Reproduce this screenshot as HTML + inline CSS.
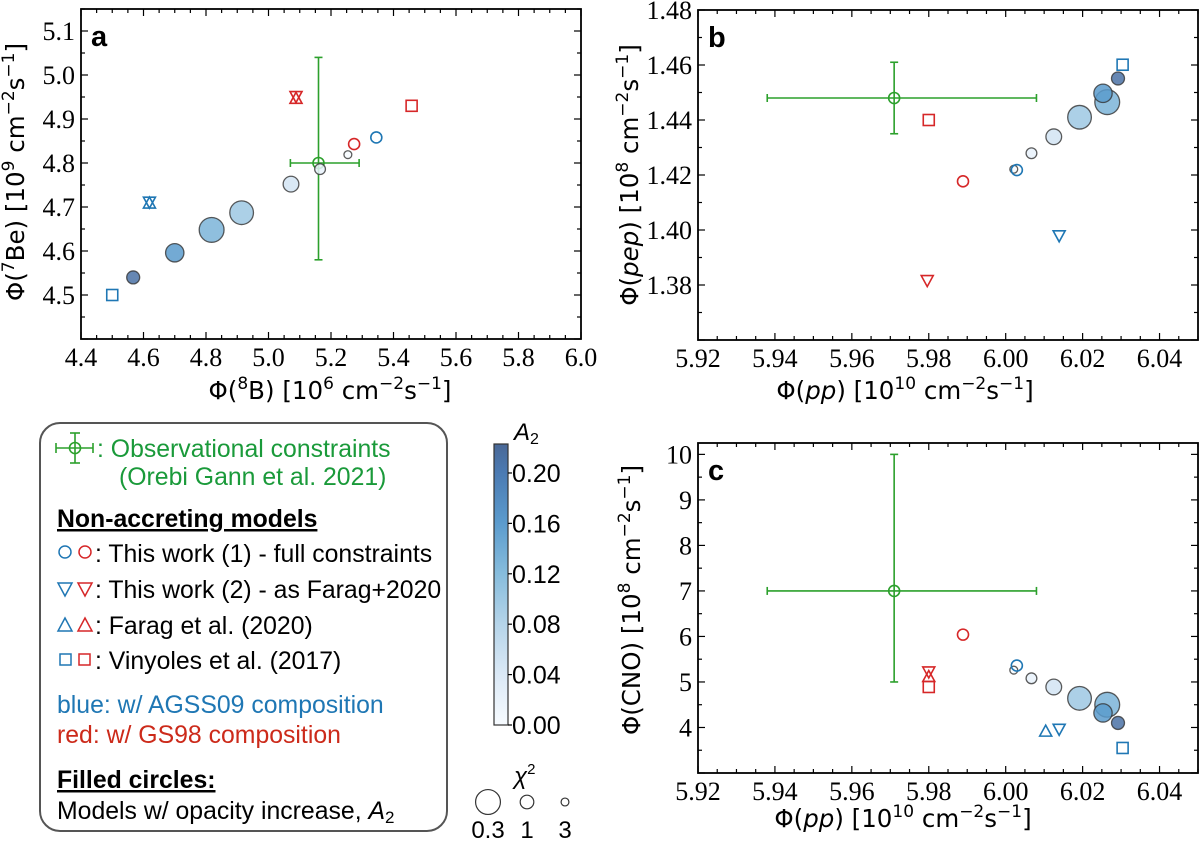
<!DOCTYPE html>
<html><head><meta charset="utf-8">
<style>
html,body{margin:0;padding:0;background:#fff;}
svg{display:block;}
.title{font-family:"DejaVu Sans","Liberation Sans",sans-serif;font-size:24.5px;fill:#000;}
.leg{font-family:"Liberation Sans",sans-serif;font-size:24.8px;}
</style></head>
<body>
<svg id="fig" width="1200" height="844" viewBox="0 0 1200 844" xmlns="http://www.w3.org/2000/svg">
  <g>
    <rect x="40" y="423" width="407" height="408" rx="20" ry="20" fill="#fff" stroke="#555" stroke-width="2"/>
    <g stroke="#2ca02c" stroke-width="1.6" fill="none">
      <line x1="56" y1="448" x2="93" y2="448"/><line x1="56" y1="443" x2="56" y2="453"/><line x1="93" y1="443" x2="93" y2="453"/>
      <line x1="75" y1="433" x2="75" y2="463"/><line x1="70" y1="433" x2="80" y2="433"/><line x1="70" y1="463" x2="80" y2="463"/>
      <circle cx="75" cy="448" r="5.5"/>
    </g>
    <text class="leg" x="97" y="457" fill="#1a9a3a">: Observational constraints</text>
    <text class="leg" x="119" y="485" fill="#1a9a3a">(Orebi Gann et al. 2021)</text>
    <text class="leg" x="57" y="527" fill="#000" font-weight="bold" text-decoration="underline">Non-accreting models</text>
    <g fill="none" stroke-width="1.5">
      <circle cx="65" cy="552" r="6" stroke="#1f77b4"/><circle cx="85" cy="552" r="6" stroke="#d62728"/>
      <path d="M58,583 L72,583 L65,596 Z" stroke="#1f77b4"/><path d="M78,583 L92,583 L85,596 Z" stroke="#d62728"/>
      <path d="M58,631 L72,631 L65,618 Z" stroke="#1f77b4"/><path d="M78,631 L92,631 L85,618 Z" stroke="#d62728"/>
      <rect x="60" y="654" width="11" height="11" stroke="#1f77b4"/><rect x="79" y="654" width="11" height="11" stroke="#d62728"/>
    </g>
    <text class="leg" x="95" y="562" fill="#000">: This work (1) - full constraints</text>
    <text class="leg" x="95" y="598" fill="#000">: This work (2) - as Farag+2020</text>
    <text class="leg" x="95" y="634" fill="#000">: Farag et al. (2020)</text>
    <text class="leg" x="95" y="669" fill="#000">: Vinyoles et al. (2017)</text>
    <text class="leg" x="57" y="713" fill="#1f77b4">blue: w/ AGSS09 composition</text>
    <text class="leg" x="57" y="743" fill="#cc2a1a">red: w/ GS98 composition</text>
    <text class="leg" x="57" y="788" fill="#000" font-weight="bold" text-decoration="underline">Filled circles:</text>
    <text class="leg" x="57" y="819" fill="#000">Models w/ opacity increase, <tspan font-style="italic">A</tspan><tspan font-size="17" dy="4">2</tspan></text>
  </g>
  <defs>
    <linearGradient id="cmap" x1="0" y1="1" x2="0" y2="0">
      <stop offset="0" stop-color="#f7fbff"/>
      <stop offset="0.18" stop-color="#dbe9f6"/>
      <stop offset="0.36" stop-color="#b5d4e9"/>
      <stop offset="0.54" stop-color="#86bcdc"/>
      <stop offset="0.72" stop-color="#5b9bcd"/>
      <stop offset="0.9" stop-color="#4b7ab2"/>
      <stop offset="1" stop-color="#4a6896"/>
    </linearGradient>
  </defs>
  <g id="cbar"></g>
  <g id="sizeleg"></g>
  <g id="pa"></g>
  <g id="pb"></g>
  <g id="pc"></g>
</svg>
<script>
const modelA2 = [0.0, 0.02, 0.05, 0.10, 0.13, 0.16, 0.21];
const modelChi2 = [3.0, 1.6, 0.75, 0.33, 0.30, 0.55, 1.1];
const aFilledX = [5.254, 5.165, 5.072, 4.914, 4.818, 4.700, 4.567];
const aFilledY = [4.819, 4.786, 4.752, 4.687, 4.648, 4.596, 4.540];
const bFilledX = [6.0021, 6.0067, 6.0125, 6.0192, 6.0264, 6.0253, 6.0292];
const bFilledY = [1.4221, 1.4279, 1.4339, 1.4410, 1.4465, 1.4497, 1.4551];
const cFilledX = [6.0021, 6.0067, 6.0125, 6.0192, 6.0264, 6.0253, 6.0292];
const cFilledY = [5.26, 5.08, 4.89, 4.64, 4.50, 4.32, 4.10];
const aCircleX = [5.345, 5.274], aCircleY = [4.858, 4.843];
const aTriDownX = [4.619, 5.088], aTriDownY = [4.711, 4.951];
const aTriUpX = [4.619, 5.088], aTriUpY = [4.709, 4.947];
const aSquareX = [4.50, 5.458], aSquareY = [4.50, 4.930];
const bCircleX = [6.0029, 5.9889], bCircleY = [1.4218, 1.4177];
const bTriDownX = [6.0139, 5.9796], bTriDownY = [1.3979, 1.3816];
const bTriUpX = [], bTriUpY = [];
const bSquareX = [6.0304, 5.98], bSquareY = [1.4601, 1.440];
const cCircleX = [6.0029, 5.9889], cCircleY = [5.36, 6.04];
const cTriDownX = [6.0139, 5.98], cTriDownY = [3.96, 5.22];
const cTriUpX = [6.0104, 5.98], cTriUpY = [3.92, 5.12];
const cSquareX = [6.0304, 5.98], cSquareY = [3.55, 4.89];
const aObsX = [5.16, 5.07, 5.29], aObsY = [4.80, 4.58, 5.04];
const bObsX = [5.971, 5.938, 6.008], bObsY = [1.448, 1.435, 1.461];
const cObsX = [5.971, 5.938, 6.008], cObsY = [7.0, 5.0, 10.0];
const aXTicks = ["4.4","4.6","4.8","5.0","5.2","5.4","5.6","5.8","6.0"];
const aYTicks = ["4.5","4.6","4.7","4.8","4.9","5.0","5.1"];
const bXTicks = ["5.92","5.94","5.96","5.98","6.00","6.02","6.04"];
const bYTicks = ["1.38","1.40","1.42","1.44","1.46","1.48"];
const cXTicks = ["5.92","5.94","5.96","5.98","6.00","6.02","6.04"];
const cYTicks = ["4","5","6","7","8","9","10"];
const cbarTicks = ["0.00","0.04","0.08","0.12","0.16","0.20"];
const sizeLegChi2 = [0.3, 1, 3];
const sizeLegLabels = ["0.3","1","3"];

const NS = "http://www.w3.org/2000/svg";
const BLUE = "#1f77b4", RED = "#d62728", GREEN = "#2ca02c";
const SERIF = "Liberation Serif, DejaVu Serif, serif";
function mk(tag, attrs, parent){
  const e = document.createElementNS(NS, tag);
  for (const k in attrs) e.setAttribute(k, attrs[k]);
  parent.appendChild(e); return e;
}
const cmStops = [[0,[247,251,255]],[0.04,[219,233,246]],[0.08,[181,212,233]],[0.12,[134,188,220]],[0.16,[91,155,205]],[0.20,[75,122,178]],[0.223,[74,104,150]]];
function cmap(v){
  for (let i=1;i<cmStops.length;i++){
    if (v<=cmStops[i][0]){
      const a=cmStops[i-1], b=cmStops[i], t=(v-a[0])/(b[0]-a[0]);
      const c=a[1].map((x,j)=>Math.round(x+(b[1][j]-x)*t));
      return `rgb(${c[0]},${c[1]},${c[2]})`;
    }
  }
  return "rgb(74,104,150)";
}
function rad(chi){ return 6.8/Math.sqrt(chi); }

function panel(g, cfg){
  const sx = v => cfg.px0 + (v-cfg.x0)/(cfg.x1-cfg.x0)*(cfg.px1-cfg.px0);
  const sy = v => cfg.py1 - (v-cfg.y0)/(cfg.y1-cfg.y0)*(cfg.py1-cfg.py0);
  const tg = mk("g", {stroke:"#000","stroke-width":1.2}, g);
  
  
  const eps=1e-9;
  for (let v=cfg.x0; v<=cfg.x1+eps; v+=cfg.xminor){
    const x=sx(v); const isMaj = Math.abs(Math.round((v-cfg.xmaj0)/cfg.xmajor)*cfg.xmajor-(v-cfg.xmaj0))<1e-6;
    const L = isMaj?7:4;
    mk("line",{x1:x,y1:cfg.py1,x2:x,y2:cfg.py1-L},tg);
    mk("line",{x1:x,y1:cfg.py0,x2:x,y2:cfg.py0+L},tg);
  }
  for (let v=cfg.y0; v<=cfg.y1+eps; v+=cfg.yminor){
    const y=sy(v); const isMaj = Math.abs(Math.round((v-cfg.ymaj0)/cfg.ymajor)*cfg.ymajor-(v-cfg.ymaj0))<1e-6;
    const L = isMaj?7:4;
    mk("line",{x1:cfg.px0,y1:y,x2:cfg.px0+L,y2:y},tg);
    mk("line",{x1:cfg.px1,y1:y,x2:cfg.px1-L,y2:y},tg);
  }
  cfg.xTicks.forEach(s=>{
    const t = mk("text",{"font-family":SERIF,"font-size":"26",x:sx(parseFloat(s)),y:cfg.py1+27,"text-anchor":"middle"},g);
    t.textContent=s;
    
    
  });
  cfg.yTicks.forEach(s=>{
    const t = mk("text",{"font-family":SERIF,"font-size":"26",x:cfg.px0-6,y:sy(parseFloat(s))+9,"text-anchor":"end"},g);
    t.textContent=s;
    
    
  });
  const og = mk("g",{stroke:GREEN,"stroke-width":1.6,fill:"none"},g);
  
  
  const cx=sx(cfg.obsX[0]), cy=sy(cfg.obsY[0]);
  const xl=sx(cfg.obsX[1]), xh=sx(cfg.obsX[2]), yl=sy(cfg.obsY[1]), yh=sy(cfg.obsY[2]);
  mk("line",{x1:xl,y1:cy,x2:xh,y2:cy},og);
  mk("line",{x1:xl,y1:cy-4,x2:xl,y2:cy+4},og);
  mk("line",{x1:xh,y1:cy-4,x2:xh,y2:cy+4},og);
  mk("line",{x1:cx,y1:yl,x2:cx,y2:yh},og);
  mk("line",{x1:cx-4,y1:yl,x2:cx+4,y2:yl},og);
  mk("line",{x1:cx-4,y1:yh,x2:cx+4,y2:yh},og);
  mk("circle",{cx:cx,cy:cy,r:5.5},og);
  const fg = mk("g",{},g);
  
  
  cfg.fX.forEach((xv,i)=>{
    const c = mk("circle",{cx:sx(xv),cy:sy(cfg.fY[i]),r:rad(modelChi2[i]),fill:cmap(modelA2[i]),"fill-opacity":0.85,stroke:"#333","stroke-opacity":0.8,"stroke-width":1.3},fg);
    
    
  });
  const cols=[BLUE,RED];
  const mg = mk("g",{fill:"none","stroke-width":1.6},g);
  
  
  cfg.cX.forEach((xv,i)=>{
    const e=mk("circle",{cx:sx(xv),cy:sy(cfg.cY[i]),r:5.5,stroke:cols[i]},mg);
    
    
  });
  cfg.dX.forEach((xv,i)=>{
    const x=sx(xv), y=sy(cfg.dY[i]);
    const e=mk("path",{d:`M${x-6},${y-5} L${x+6},${y-5} L${x},${y+6} Z`,stroke:cols[i]},mg);
    
    
  });
  cfg.uX.forEach((xv,i)=>{
    const x=sx(xv), y=sy(cfg.uY[i]);
    const e=mk("path",{d:`M${x-6},${y+5} L${x+6},${y+5} L${x},${y-6} Z`,stroke:cols[i]},mg);
    
    
  });
  cfg.sX.forEach((xv,i)=>{
    const x=sx(xv), y=sy(cfg.sY[i]);
    const e=mk("rect",{x:x-5.5,y:y-5.5,width:11,height:11,stroke:cols[i]},mg);
    
    
  });
  const fr = mk("rect",{x:cfg.px0,y:cfg.py0,width:cfg.px1-cfg.px0,height:cfg.py1-cfg.py0,fill:"none",stroke:"#000","stroke-width":1.8},g);
  
  
  const lb = mk("text",{x:cfg.px0+10,y:cfg.py0+37,"font-family":"Liberation Sans, sans-serif","font-weight":"bold","font-size":"29"},g);
  lb.textContent=cfg.label;
  
  
  const xt = mk("text",{class:"title",x:cfg.xtX,y:cfg.xtY,"text-anchor":"middle"},g);
  xt.innerHTML = cfg.xtitle;
  
  
  const yt = mk("text",{class:"title",x:0,y:0,"text-anchor":"middle",transform:`translate(${cfg.ytX},${cfg.ytY}) rotate(-90)`},g);
  yt.innerHTML = cfg.ytitle;
  
  
}
const sup = s => `<tspan dy="-10" font-size="17">${s}</tspan><tspan dy="10"> </tspan>`;
const fluxUnit = e => `[10${sup(e)}cm<tspan dy="-10" font-size="17">−2</tspan><tspan dy="10">s</tspan><tspan dy="-10" font-size="17">−1</tspan><tspan dy="10">]</tspan>`;

panel(document.getElementById("pa"), {px0:81,px1:581,py0:9,py1:339,x0:4.4,x1:6.0,y0:4.4,y1:5.15,
  xminor:0.05,xmajor:0.2,xmaj0:4.4,yminor:0.05,ymajor:0.1,ymaj0:4.4,
  xTicks:aXTicks,yTicks:aYTicks,obsX:aObsX,obsY:aObsY,fX:aFilledX,fY:aFilledY,
  cX:aCircleX,cY:aCircleY,dX:aTriDownX,dY:aTriDownY,uX:aTriUpX,uY:aTriUpY,sX:aSquareX,sY:aSquareY,
  label:"a",xtX:330,xtY:399,ytX:24,ytY:172,
  xtitle:`Φ(<tspan dy="-10" font-size="17">8</tspan><tspan dy="10">B) </tspan>`+fluxUnit("6"),
  ytitle:`Φ(<tspan dy="-10" font-size="17">7</tspan><tspan dy="10">Be) </tspan>`+fluxUnit("9")});
panel(document.getElementById("pb"), {px0:698,px1:1198,py0:10,py1:340,x0:5.92,x1:6.05,y0:1.36,y1:1.48,
  xminor:0.005,xmajor:0.02,xmaj0:5.92,yminor:0.01,ymajor:0.02,ymaj0:1.36,
  xTicks:bXTicks,yTicks:bYTicks,obsX:bObsX,obsY:bObsY,fX:bFilledX,fY:bFilledY,
  cX:bCircleX,cY:bCircleY,dX:bTriDownX,dY:bTriDownY,uX:bTriUpX,uY:bTriUpY,sX:bSquareX,sY:bSquareY,
  label:"b",xtX:905,xtY:399,ytX:638,ytY:175,
  xtitle:`Φ(<tspan font-style="italic">pp</tspan>) `+fluxUnit("10"),
  ytitle:`Φ(<tspan font-style="italic">pep</tspan>) `+fluxUnit("8")});
panel(document.getElementById("pc"), {px0:698,px1:1198,py0:443,py1:773,x0:5.92,x1:6.05,y0:3,y1:10.25,
  xminor:0.005,xmajor:0.02,xmaj0:5.92,yminor:0.5,ymajor:1,ymaj0:3,
  xTicks:cXTicks,yTicks:cYTicks,obsX:cObsX,obsY:cObsY,fX:cFilledX,fY:cFilledY,
  cX:cCircleX,cY:cCircleY,dX:cTriDownX,dY:cTriDownY,uX:cTriUpX,uY:cTriUpY,sX:cSquareX,sY:cSquareY,
  label:"c",xtX:903,xtY:827,ytX:640,ytY:600,
  xtitle:`Φ(<tspan font-style="italic">pp</tspan>) `+fluxUnit("10"),
  ytitle:`Φ(CNO) `+fluxUnit("8")});

(function(){
  const g=document.getElementById("cbar");
  const top=444, bot=725, vmax=0.223;
  const r=mk("rect",{x:494,y:top,width:14,height:bot-top,fill:"url(#cmap)",stroke:"#333","stroke-width":1.2},g);
  
  
  cbarTicks.forEach(s=>{
    const y = bot - parseFloat(s)/vmax*(bot-top);
    mk("line",{x1:508,y1:y,x2:512,y2:y,stroke:"#000","stroke-width":1.2},g);
    const t=mk("text",{x:512,y:y+9,"font-family":"Liberation Sans, sans-serif","font-size":"25"},g);
    t.textContent=s;
    
    
  });
  const t=mk("text",{x:514,y:440,"font-family":"Liberation Sans, sans-serif","font-size":"24","font-style":"italic"},g);
  t.innerHTML='A<tspan font-size="16" dy="4" font-style="normal">2</tspan>';
  
  
})();
(function(){
  const g=document.getElementById("sizeleg");
  const xs=[488,527,565];
  sizeLegChi2.forEach((c,i)=>{
    const e=mk("circle",{cx:xs[i],cy:802,r:rad(c),fill:"#fff",stroke:"#333","stroke-width":1.2},g);
    
    
    const t=mk("text",{x:xs[i],y:838,"text-anchor":"middle","font-family":"Liberation Sans, sans-serif","font-size":"24"},g);
    t.textContent=sizeLegLabels[i];
    
    
  });
  const t=mk("text",{x:514,y:784,"font-family":"Liberation Sans, sans-serif","font-size":"24","font-style":"italic"},g);
  t.innerHTML='χ<tspan font-size="15" dy="-10" font-style="normal">2</tspan>';
  
  
})();
</script>
</body></html>
